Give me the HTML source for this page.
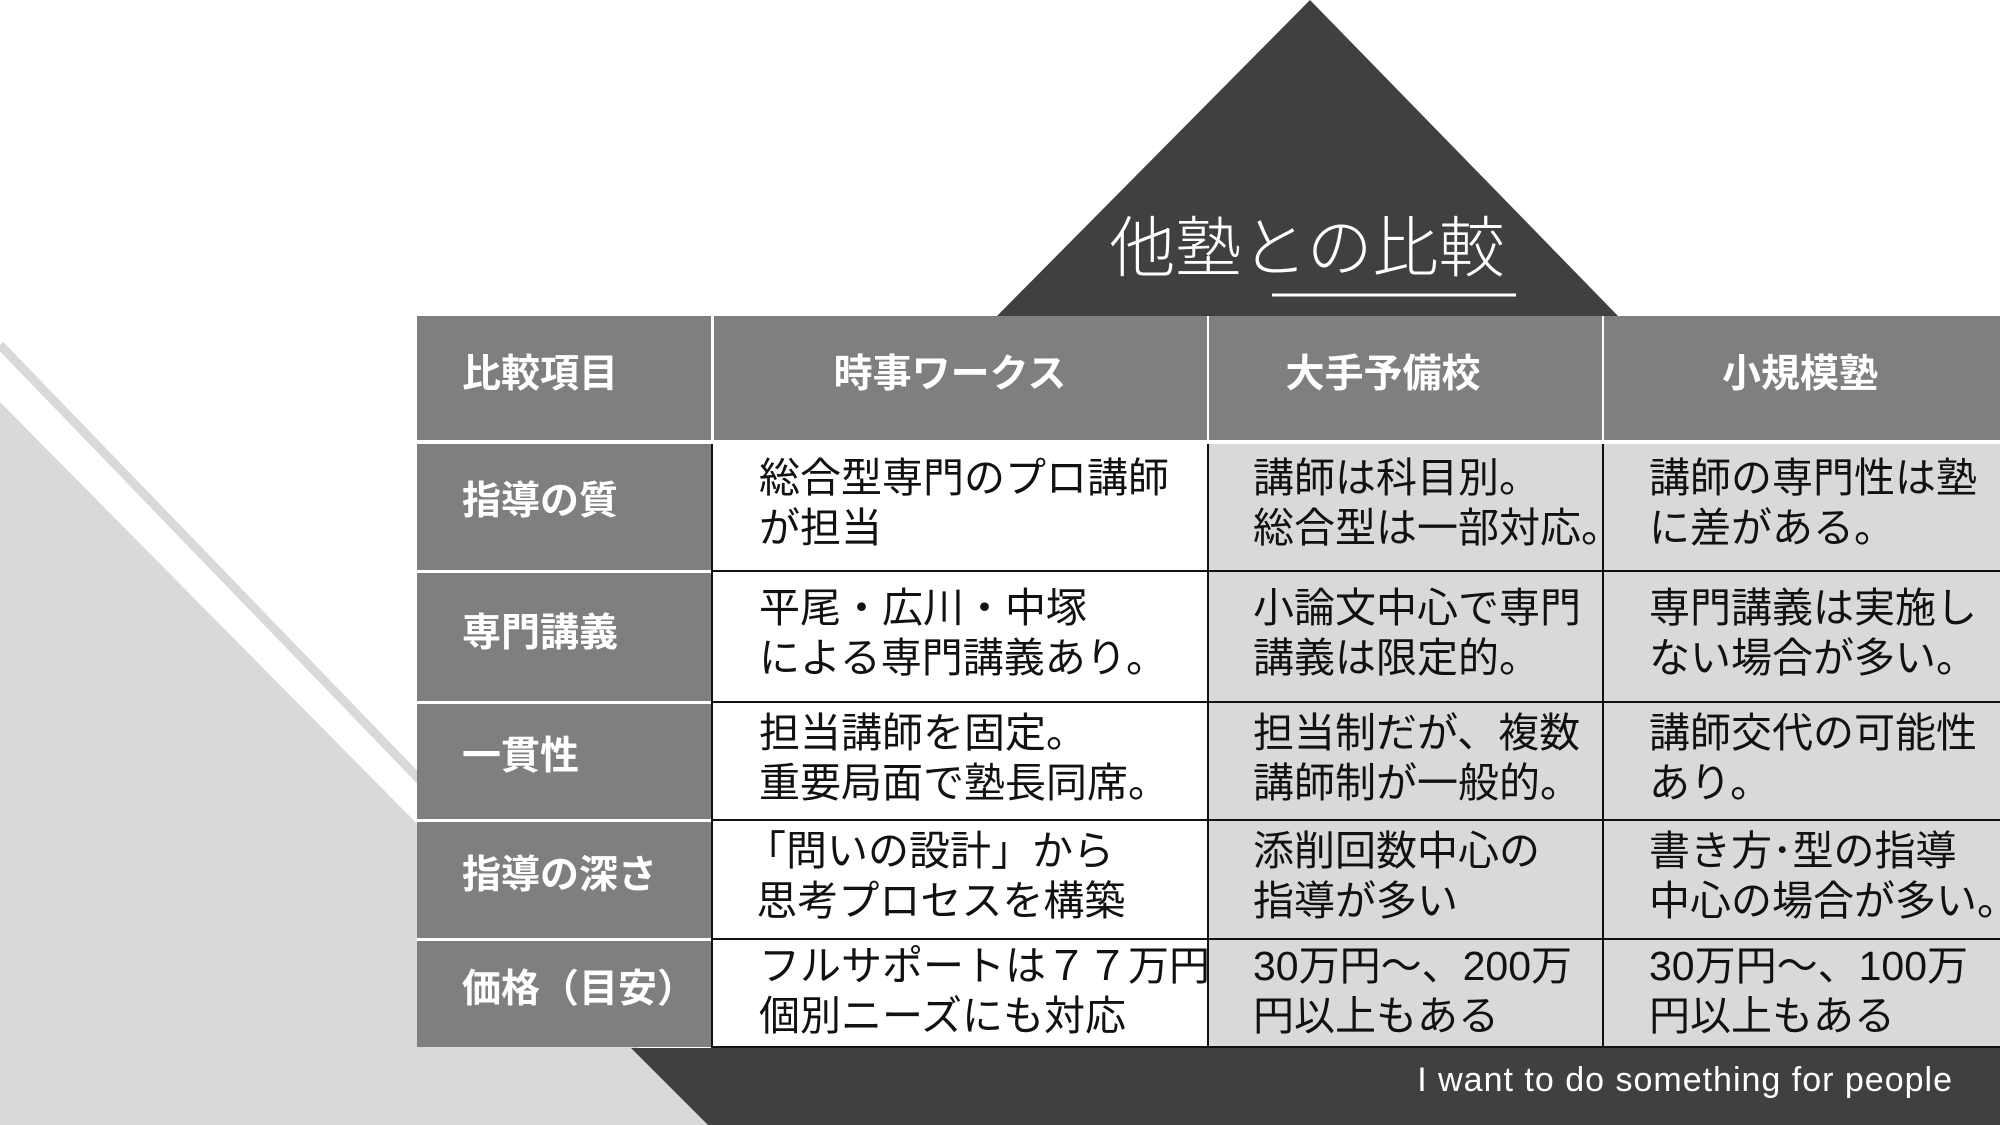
<!DOCTYPE html>
<html><head><meta charset="utf-8"><style>
html,body{margin:0;padding:0}
body{width:2000px;height:1125px;position:relative;overflow:hidden;background:#fff;font-family:"Liberation Sans","Noto Sans CJK JP",sans-serif}
.a{position:absolute;white-space:nowrap}
.c{position:absolute;box-sizing:border-box}
.h{color:#fff;font-weight:bold;font-size:39px;line-height:50px}
.t{font-size:41px;line-height:50px;color:#111}
</style></head><body>
<svg class="a" style="left:0;top:0" width="2000" height="1125">
<polygon points="0,402 715,1125 0,1125" fill="#d9d9d9"/>
<line x1="0" y1="345" x2="420" y2="780" stroke="#d9d9d9" stroke-width="9"/>
<polygon points="1310,0 1620,318 995,318" fill="#404040"/>
<polygon points="631,1048 2000,1048 2000,1125 708,1125" fill="#404040"/>
<line x1="1272" y1="295" x2="1516" y2="295" stroke="#fff" stroke-width="3"/>
</svg>
<div class="a" style="left:1307px;top:208px;transform:translateX(-50%);color:#fff;font-size:66px;line-height:80px;font-weight:300">他塾との比較</div>
<div class="a" style="right:47px;top:1060px;color:#fff;font-size:34px;line-height:40px;letter-spacing:1px">I want to do something for people</div>

<div class="c" style="left:417px;top:316px;width:1583px;height:124px;background:#7f7f7f"></div>
<div class="c" style="left:711px;top:316px;width:3px;height:124px;background:#fff"></div>
<div class="c" style="left:1207px;top:316px;width:2px;height:124px;background:#fff"></div>
<div class="c" style="left:1602px;top:316px;width:2px;height:124px;background:#fff"></div>
<div class="c" style="left:417px;top:440px;width:1583px;height:4px;background:#fff"></div>
<div class="c" style="left:417px;top:444px;width:295px;height:603px;background:#7f7f7f"></div>
<div class="c" style="left:712px;top:444px;width:496px;height:603px;background:#fff"></div>
<div class="c" style="left:1208px;top:444px;width:792px;height:603px;background:#d9d9d9"></div>
<div class="c" style="left:417px;top:570px;width:295px;height:3px;background:#fff"></div>
<div class="c" style="left:417px;top:701px;width:295px;height:3px;background:#fff"></div>
<div class="c" style="left:417px;top:819px;width:295px;height:3px;background:#fff"></div>
<div class="c" style="left:417px;top:938px;width:295px;height:3px;background:#fff"></div>
<div class="c" style="left:712px;top:570px;width:1288px;height:2px;background:#111"></div>
<div class="c" style="left:712px;top:701px;width:1288px;height:2px;background:#111"></div>
<div class="c" style="left:712px;top:819px;width:1288px;height:2px;background:#111"></div>
<div class="c" style="left:712px;top:938px;width:1288px;height:2px;background:#111"></div>
<div class="c" style="left:712px;top:1046px;width:1288px;height:2px;background:#111"></div>
<div class="c" style="left:711px;top:444px;width:2px;height:604px;background:#111"></div>
<div class="c" style="left:1207px;top:444px;width:2px;height:604px;background:#111"></div>
<div class="c" style="left:1602px;top:444px;width:2px;height:604px;background:#111"></div>

<div class="a h" style="left:462px;top:350px">比較項目</div>
<div class="a h" style="left:950px;top:350px;transform:translateX(-50%)">時事ワークス</div>
<div class="a h" style="left:1383px;top:350px;transform:translateX(-50%)">大手予備校</div>
<div class="a h" style="left:1800px;top:350px;transform:translateX(-50%)">小規模塾</div>

<div class="a h" style="left:462px;top:477px">指導の質</div>
<div class="a h" style="left:462px;top:609px">専門講義</div>
<div class="a h" style="left:462px;top:732px">一貫性</div>
<div class="a h" style="left:462px;top:851px">指導の深さ</div>
<div class="a h" style="left:462px;top:965px">価格（目安）</div>

<div class="a t" style="left:759px;top:453px">総合型専門のプロ講師<br>が担当</div>
<div class="a t" style="left:1253px;top:453px">講師は科目別。<br>総合型は一部対応。</div>
<div class="a t" style="left:1649px;top:453px">講師の専門性は塾<br>に差がある。</div>

<div class="a t" style="left:759px;top:583px">平尾・広川・中塚<br>による専門講義あり。</div>
<div class="a t" style="left:1253px;top:583px">小論文中心で専門<br>講義は限定的。</div>
<div class="a t" style="left:1649px;top:583px">専門講義は実施し<br>ない場合が多い。</div>

<div class="a t" style="left:759px;top:708px">担当講師を固定。<br>重要局面で塾長同席。</div>
<div class="a t" style="left:1253px;top:708px">担当制だが、複数<br>講師制が一般的。</div>
<div class="a t" style="left:1649px;top:708px">講師交代の可能性<br>あり。</div>

<div class="a t" style="left:745px;top:826px">「問いの設計」から<br>&nbsp;思考プロセスを構築</div>
<div class="a t" style="left:1253px;top:826px">添削回数中心の<br>指導が多い</div>
<div class="a t" style="left:1649px;top:826px">書き方･型の指導<br>中心の場合が多い。</div>

<div class="a t" style="left:759px;top:941px">フルサポートは７７万円<br>個別ニーズにも対応</div>
<div class="a t" style="left:1253px;top:941px">30万円～、200万<br>円以上もある</div>
<div class="a t" style="left:1649px;top:941px">30万円～、100万<br>円以上もある</div>
</body></html>
